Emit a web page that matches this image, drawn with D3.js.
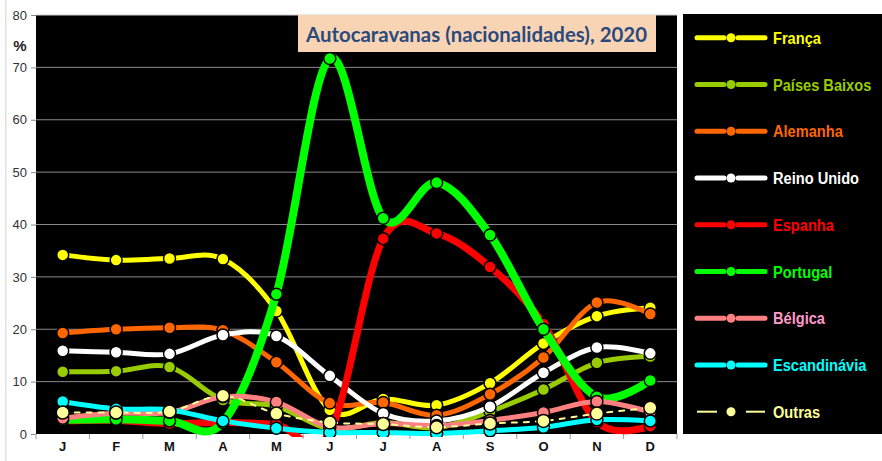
<!DOCTYPE html>
<html>
<head>
<meta charset="utf-8">
<script src="https://cdn.jsdelivr.net/npm/d3@7"></script>
<style>
  body { margin: 0; background: #fff; }
  svg { display: block; }
</style>
</head>
<body>
<div id="chart"></div>
<script>
// chart values (%)
var months = ["J", "F", "M", "A", "M", "J", "J", "A", "S", "O", "N", "D"];
var yTicks = [0, 10, 20, 30, 40, 50, 60, 70, 80];

var franca       = [34.2, 33.2, 33.5, 33.4, 23.5, 4.6, 6.7, 5.5, 9.7, 17.3, 22.5, 24.1];
var paisesBaixos = [11.9, 12.0, 12.8, 6.5, 5.3, 1.0, 2.2, 1.2, 4.3, 8.5, 13.6, 14.8];
var alemanha     = [19.3, 20.0, 20.3, 19.8, 13.7, 5.9, 6.0, 3.6, 7.6, 14.6, 25.1, 22.9];
var reinoUnido   = [15.9, 15.6, 15.3, 18.9, 18.7, 11.1, 3.9, 2.5, 5.2, 11.7, 16.5, 15.4];
var espanha      = [2.5, 2.6, 2.0, 2.2, 1.8, 0.3, 37.3, 38.3, 31.9, 21.0, 2.3, 1.5];
var portugal     = [2.7, 2.8, 2.5, 2.2, 26.7, 71.7, 41.2, 48.0, 38.0, 20.0, 7.1, 10.2];
var belgica      = [3.0, 4.0, 4.1, 7.1, 6.1, 1.3, 2.0, 1.6, 2.6, 4.1, 6.2, 4.2];
var escandinavia = [6.2, 4.8, 4.6, 2.5, 1.1, 0.3, 0.3, 0.1, 0.6, 1.3, 2.7, 2.5];
var outras       = [4.1, 4.1, 4.3, 7.3, 3.9, 2.2, 1.9, 1.3, 2.0, 2.5, 3.9, 5.0];

var series = [
  {name: "França",        values: franca,       color: "#ffff00", text: "#ffff00", width: 5},
  {name: "Países Baixos", values: paisesBaixos, color: "#99cc00", text: "#99cc00", width: 5},
  {name: "Alemanha",      values: alemanha,     color: "#ff6600", text: "#ff6600", width: 5},
  {name: "Reino Unido",   values: reinoUnido,   color: "#ffffff", text: "#ffffff", width: 5},
  {name: "Espanha",       values: espanha,      color: "#ff0000", text: "#ff0000", width: 7},
  {name: "Portugal",      values: portugal,     color: "#00ff00", text: "#00ff00", width: 8},
  {name: "Bélgica",       values: belgica,      color: "#ff8080", text: "#ff99cc", width: 5},
  {name: "Escandinávia",  values: escandinavia, color: "#00ffff", text: "#00ffff", width: 5},
  {name: "Outras",        values: outras,       color: "#ffff99", text: "#ffff99", width: 2, dash: true}
];

var width = 882, height = 461;
var plot = {left: 36, right: 677, top: 15, bottom: 434};

var svg = d3.select("#chart").append("svg")
  .attr("width", width)
  .attr("height", height);

// faint page edge on the left
svg.append("rect").attr("x", 5).attr("y", 0).attr("width", 1.5).attr("height", height).attr("fill", "#e2e2e2");

var xScale = d3.scaleBand()
  .domain(d3.range(months.length))
  .range([plot.left, plot.right]);

var yScale = d3.scaleLinear()
  .domain([0, 80])
  .range([plot.bottom, plot.top]);

var cx = i => xScale(i) + xScale.bandwidth() / 2;

// plot background
svg.append("rect")
  .attr("x", plot.left).attr("y", plot.top)
  .attr("width", plot.right - plot.left).attr("height", plot.bottom - plot.top)
  .attr("fill", "#000");

// gridlines
svg.append("g")
  .selectAll("line")
  .data(yTicks.filter(d => d > 0))
  .enter().append("line")
    .attr("x1", plot.left).attr("x2", plot.right)
    .attr("y1", d => yScale(d)).attr("y2", d => yScale(d))
    .attr("stroke", d => d == 80 ? "#d0d0d0" : "#8a8a8a")
    .attr("stroke-width", 1);

// y axis
var yAxis = g => g
  .attr("transform", `translate(${plot.left},0)`)
  .call(d3.axisLeft(yScale).tickValues(yTicks).tickSize(5).tickPadding(4))
  .call(g => g.select(".domain").remove())
  .call(g => g.selectAll(".tick line").attr("stroke", "#888"))
  .call(g => g.selectAll(".tick text")
      .attr("fill", "#333")
      .style("font-family", "'Liberation Sans', Arial, sans-serif")
      .style("font-size", "13px"));
svg.append("g").call(yAxis);

svg.append("text")
  .attr("x", 20).attr("y", 51)
  .attr("text-anchor", "middle")
  .style("font-family", "'Liberation Sans', Arial, sans-serif")
  .style("font-weight", "bold")
  .style("font-size", "15px")
  .attr("fill", "#222")
  .text("%");

// x axis
var xAxis = g => g
  .attr("transform", `translate(0,${plot.bottom})`)
  .call(d3.axisBottom(xScale).tickFormat(i => months[i]).tickSize(0).tickPadding(8))
  .call(g => g.select(".domain").remove())
  .call(g => g.selectAll(".tick text")
      .attr("fill", "#111")
      .style("font-family", "'Liberation Sans', Arial, sans-serif")
      .style("font-weight", "bold")
      .style("font-size", "13px"));
svg.append("g").call(xAxis);

svg.append("g")
  .selectAll("line")
  .data(d3.range(months.length + 1))
  .enter().append("line")
    .attr("x1", i => plot.left + i * xScale.bandwidth())
    .attr("x2", i => plot.left + i * xScale.bandwidth())
    .attr("y1", plot.bottom).attr("y2", plot.bottom + 5)
    .attr("stroke", "#999");

// lines and markers
svg.append("clipPath").attr("id", "plotclip")
  .append("rect")
  .attr("x", plot.left).attr("y", plot.top)
  .attr("width", plot.right - plot.left).attr("height", plot.bottom - plot.top + 3);

var line = d3.line()
  .x((d, i) => cx(i))
  .y(d => yScale(d))
  .curve(d3.curveCatmullRom.alpha(0));

var lines = svg.append("g").attr("clip-path", "url(#plotclip)");

series.forEach(function (s) {
  var g = lines.append("g");
  g.append("path")
    .datum(s.values)
    .attr("d", line)
    .attr("fill", "none")
    .attr("stroke", s.color)
    .attr("stroke-width", s.width)
    .attr("stroke-linecap", "round")
    .attr("stroke-linejoin", "round")
    .attr("stroke-dasharray", s.dash ? "5,7" : null);
  g.selectAll("circle")
    .data(s.values)
    .enter().append("circle")
      .attr("cx", (d, i) => cx(i))
      .attr("cy", d => yScale(d))
      .attr("r", s.dash ? 6.5 : 6)
      .attr("fill", s.color)
      .attr("stroke", "#000")
      .attr("stroke-width", 1.5);
});

// title box
svg.append("rect")
  .attr("x", 298).attr("y", plot.top)
  .attr("width", 358).attr("height", 37)
  .attr("fill", "#f9d4b4");
svg.append("text")
  .attr("x", 306).attr("y", 42)
  .attr("textLength", 341)
  .attr("lengthAdjust", "spacingAndGlyphs")
  .style("font-family", "Lato, 'Open Sans', sans-serif")
  .style("font-weight", "bold")
  .style("font-size", "20px")
  .attr("fill", "#2b4a7c")
  .text("Autocaravanas (nacionalidades), 2020");

// legend
var legend = svg.append("g");
legend.append("rect")
  .attr("x", 683).attr("y", 14)
  .attr("width", width - 683).attr("height", plot.bottom - 14)
  .attr("fill", "#000");

var row = legend.selectAll("g.item")
  .data(series)
  .enter().append("g")
    .attr("class", "item")
    .attr("transform", (d, i) => `translate(0,${37.7 + i * 46.75})`);

row.filter(d => !d.dash).append("line")
  .attr("x1", 697).attr("x2", 724).attr("y1", 0).attr("y2", 0)
  .attr("stroke", d => d.color).attr("stroke-width", 5).attr("stroke-linecap", "round");
row.filter(d => !d.dash).append("line")
  .attr("x1", 738).attr("x2", 765).attr("y1", 0).attr("y2", 0)
  .attr("stroke", d => d.color).attr("stroke-width", 5).attr("stroke-linecap", "round");
row.filter(d => d.dash).append("line")
  .attr("x1", 697).attr("x2", 717).attr("y1", 0).attr("y2", 0)
  .attr("stroke", d => d.color).attr("stroke-width", 2);
row.filter(d => d.dash).append("line")
  .attr("x1", 746).attr("x2", 765).attr("y1", 0).attr("y2", 0)
  .attr("stroke", d => d.color).attr("stroke-width", 2);
row.append("circle")
  .attr("cx", 731).attr("cy", 0).attr("r", 4.5)
  .attr("fill", d => d.color);
// narrow bold look: regular bold font squeezed horizontally
row.append("text")
  .attr("transform", "translate(773,0) scale(0.86,1)")
  .attr("dy", "0.36em")
  .style("font-family", "'Liberation Sans', Arial, sans-serif")
  .style("font-weight", "bold")
  .style("font-size", "17px")
  .attr("fill", d => d.text)
  .text(d => d.name);
</script>
</body>
</html>
